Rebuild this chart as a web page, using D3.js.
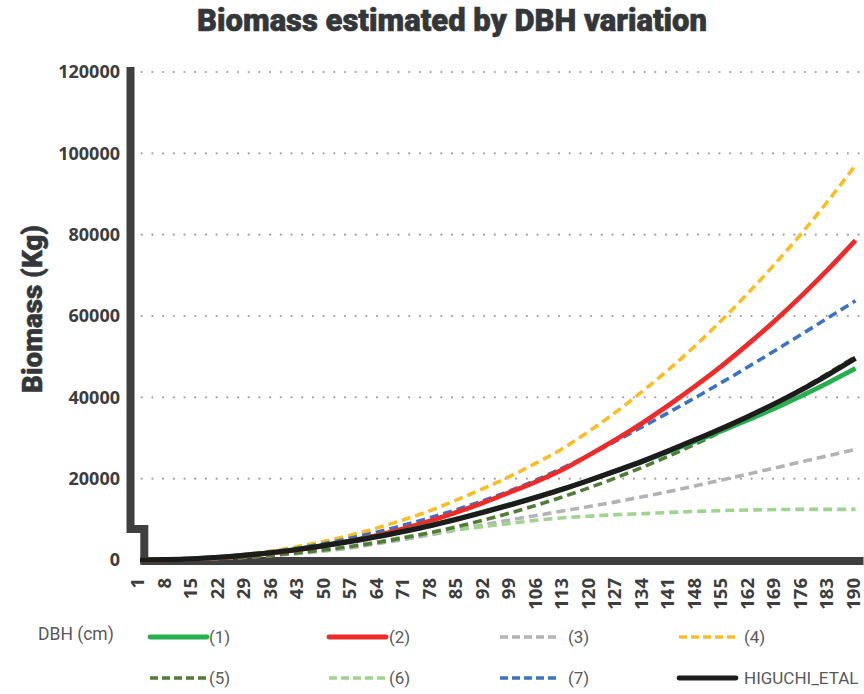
<!DOCTYPE html>
<html>
<head>
<meta charset="utf-8">
<script src="https://cdn.jsdelivr.net/npm/d3@7/dist/d3.min.js"></script>
<style>
  html, body { margin: 0; padding: 0; background: #fff; }
  svg { display: block; }
</style>
</head>
<body>
<svg id="chart" width="864" height="694"></svg>
<script>
// DBH classes (cm) on the category axis
const dbh = [1, 8, 15, 22, 29, 36, 43, 50, 57, 64, 71, 78, 85, 92, 99, 106, 113, 120, 127, 134, 141, 148, 155, 162, 169, 176, 183, 190];

// Estimated biomass (kg) per equation
const eq1 = [0, 80, 300, 690, 1210, 1870, 2680, 3640, 4700, 5860, 7170, 8590, 10200, 11900, 13700, 15600, 17600, 19750, 22000, 24300, 26800, 29300, 31900, 34600, 37400, 40500, 43700, 47100];
const eq2 = [0, 63, 253, 587, 1080, 1740, 2560, 3570, 4770, 6150, 7800, 9700, 11850, 14200, 16750, 19400, 22400, 26000, 29800, 33900, 38300, 43000, 48000, 53400, 59100, 65200, 71700, 78600];
const eq3 = [0, 40, 160, 380, 700, 1110, 1620, 2250, 3050, 4050, 5100, 6250, 7450, 8700, 9900, 11000, 12100, 13200, 14350, 15600, 16900, 18300, 19750, 21200, 22700, 24200, 25700, 27200];
const eq4 = [0, 86, 337, 777, 1420, 2275, 3350, 4655, 6190, 7970, 10000, 12270, 14900, 17700, 20700, 24000, 27600, 31900, 36600, 41700, 47100, 53000, 59300, 66000, 73100, 80600, 88600, 97100];
const eq5 = [0, 42, 170, 400, 744, 1207, 1797, 2519, 3377, 4370, 5528, 6817, 8266, 9870, 11630, 13540, 15630, 17880, 20320, 22910, 25690, 28620, 31760, 35100, 38600, 42240, 46060, 50000];
const eq6 = [0, 50, 190, 420, 760, 1200, 1780, 2500, 3400, 4500, 5700, 6700, 7500, 8250, 9000, 9800, 10400, 10800, 11150, 11400, 11700, 11950, 12150, 12300, 12400, 12450, 12450, 12450];
const eq7 = [0, 90, 330, 720, 1270, 2000, 2950, 4100, 5450, 6950, 8650, 10500, 12500, 14700, 17100, 19800, 22800, 26000, 29400, 32900, 36450, 40100, 43850, 47700, 51650, 55650, 59700, 63750];
const higuchi = [0, 80, 300, 680, 1200, 1850, 2650, 3600, 4650, 5800, 7100, 8500, 10100, 11800, 13600, 15500, 17500, 19700, 22000, 24400, 27000, 29700, 32500, 35450, 38600, 42000, 45700, 49600];

// Axis ticks and labels
const yTicks = [0, 20000, 40000, 60000, 80000, 100000, 120000];
const seriesNames = ["(1)", "(2)", "(3)", "(4)", "(5)", "(6)", "(7)", "HIGUCHI_ETAL"];

const series = [
  { name: seriesNames[0], values: eq1, color: "#27ae4f", dash: null, width: 4.8 },
  { name: seriesNames[1], values: eq2, color: "#ed2b2b", dash: null, width: 4.8 },
  { name: seriesNames[2], values: eq3, color: "#b3b3b5", dash: "9,5", width: 3.6 },
  { name: seriesNames[3], values: eq4, color: "#fbbd24", dash: "9,5", width: 3.6 },
  { name: seriesNames[4], values: eq5, color: "#4f7d36", dash: "9,5", width: 3.6 },
  { name: seriesNames[5], values: eq6, color: "#a0d38f", dash: "9,5", width: 3.6 },
  { name: seriesNames[6], values: eq7, color: "#3c73c0", dash: "9,5", width: 3.6 },
  { name: seriesNames[7], values: higuchi, color: "#1c1c1c", dash: null, width: 5.2 }
];

const svg = d3.select("#chart");
const ink = "#3d3d3d";

const x = d3.scalePoint().domain(dbh).range([140, 855.5]);
const y = d3.scaleLinear().domain([0, 120000]).range([560, 72]);

// Title
svg.append("text")
  .attr("x", 452).attr("y", 31)
  .attr("text-anchor", "middle")
  .attr("font-family", "Roboto, Lato, sans-serif")
  .attr("font-weight", 900)
  .attr("font-size", 31)
  .attr("textLength", 510)
  .attr("lengthAdjust", "spacingAndGlyphs")
  .attr("fill", "#33373a")
  .attr("stroke", "#33373a")
  .attr("stroke-width", 0.6)
  .text("Biomass estimated by DBH variation");

// Y axis title
svg.append("text")
  .attr("transform", "translate(42,309) rotate(-90)")
  .attr("text-anchor", "middle")
  .attr("font-family", "Roboto, Lato, sans-serif")
  .attr("font-weight", 900)
  .attr("font-size", 27)
  .attr("textLength", 168)
  .attr("lengthAdjust", "spacingAndGlyphs")
  .attr("fill", "#33373a")
  .attr("stroke", "#33373a")
  .attr("stroke-width", 0.5)
  .text("Biomass (Kg)");

// Dotted gridlines
svg.append("g")
  .selectAll("line")
  .data(yTicks.filter(d => d > 0))
  .join("line")
  .attr("x1", 141.7).attr("x2", 862)
  .attr("y1", d => y(d)).attr("y2", d => y(d))
  .attr("stroke", "#9e9e9e")
  .attr("stroke-width", 2.2)
  .attr("stroke-linecap", "round")
  .attr("stroke-dasharray", "0,10.7");

// Y tick labels
svg.append("g")
  .selectAll("text")
  .data(yTicks)
  .join("text")
  .attr("x", 120)
  .attr("y", d => y(d))
  .attr("dy", "0.35em")
  .attr("text-anchor", "end")
  .attr("font-family", "'Open Sans', sans-serif")
  .attr("font-weight", 700)
  .attr("font-size", 18)
  .attr("fill", ink)
  .text(d => d);

// X tick labels (rotated)
svg.append("g")
  .selectAll("text")
  .data(dbh)
  .join("text")
  .attr("transform", d => `translate(${x(d) - 2},578) rotate(-90)`)
  .attr("dy", "0.35em")
  .attr("text-anchor", "end")
  .attr("font-family", "'Open Sans', sans-serif")
  .attr("font-weight", 700)
  .attr("font-size", 18.5)
  .attr("fill", ink)
  .text(d => d);

// Axis frame: vertical value axis stepping down onto the category baseline
const axisLeft = 130.5;
const stepX = x(dbh[0]) + 4.3;
const stepY = y(7600);
const baseY = y(0) + 1;
svg.append("path")
  .attr("d", `M${axisLeft},${y(120000) - 1} V${stepY} H${stepX} V${baseY} H${x(dbh[dbh.length - 1]) + 4}`)
  .attr("fill", "none")
  .attr("stroke", "#3f3f3f")
  .attr("stroke-width", 8)
  .attr("stroke-linejoin", "miter")
  .attr("stroke-linecap", "square");

// Series lines
const line = d3.line()
  .x((d, i) => x(dbh[i]))
  .y(d => y(d))
  .curve(d3.curveMonotoneX);

// Draw order: lighter/dashed lines underneath, solid ones on top
const drawOrder = [2, 5, 4, 3, 6, 1, 0, 7];
svg.append("g")
  .selectAll("path")
  .data(drawOrder.map(i => series[i]))
  .join("path")
  .attr("d", s => line(s.values))
  .attr("fill", "none")
  .attr("stroke", s => s.color)
  .attr("stroke-width", s => s.width)
  .attr("stroke-dasharray", s => s.dash)
  .attr("stroke-linejoin", "round");

// Legend
svg.append("text")
  .attr("x", 38).attr("y", 640)
  .attr("font-family", "Roboto, sans-serif")
  .attr("font-size", 17.5)
  .attr("fill", "#595959")
  .text("DBH (cm)");

const colX = [150, 329, 500, 679];
const textGap = [59, 60, 68, 65];
const rowY = [637, 678];
const lg = svg.append("g")
  .selectAll("g")
  .data(series)
  .join("g")
  .attr("transform", (s, i) => `translate(${colX[i % 4]},${rowY[Math.floor(i / 4)]})`);

lg.append("line")
  .attr("x1", 0).attr("x2", 57)
  .attr("y1", 0).attr("y2", 0)
  .attr("stroke", s => s.color)
  .attr("stroke-width", s => s.dash ? 3.6 : 4.8)
  .attr("stroke-dasharray", s => s.dash ? "8,4" : null)
  .attr("stroke-linecap", s => s.dash ? "butt" : "round");

lg.append("text")
  .attr("x", (s, i) => textGap[i % 4])
  .attr("y", 0)
  .attr("dy", "0.36em")
  .attr("font-family", "Roboto, sans-serif")
  .attr("font-size", 17)
  .attr("fill", "#595959")
  .text(s => s.name);
</script>
</body>
</html>
